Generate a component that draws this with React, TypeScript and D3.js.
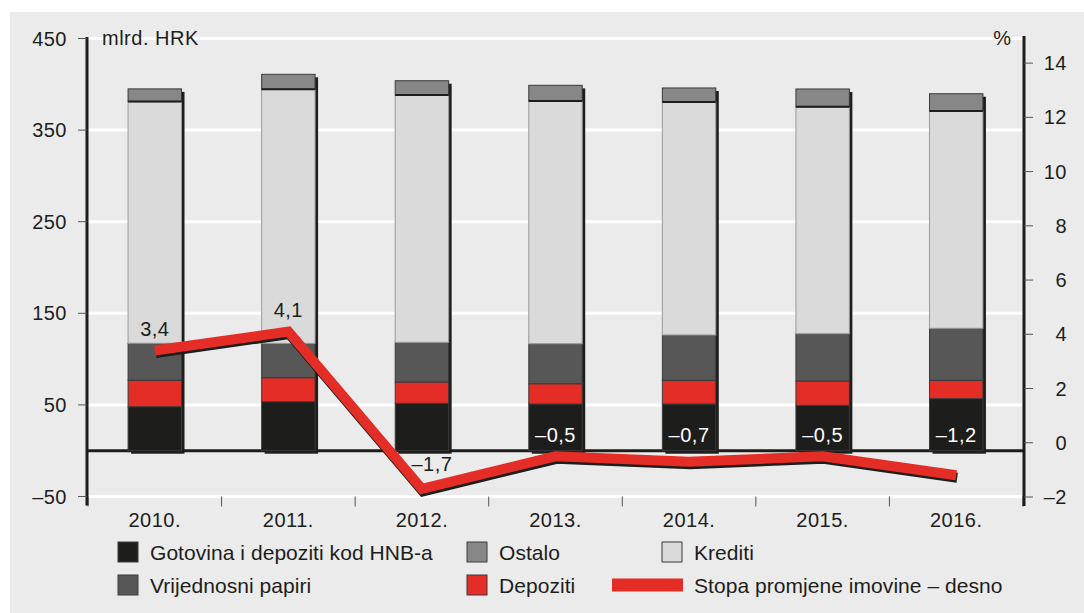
import React from "react";
import * as d3 from "d3";

const years = ["2010.", "2011.", "2012.", "2013.", "2014.", "2015.", "2016."];
const gotovina = [48, 53.5, 51.7, 51, 51, 49.6, 56.8];
const depoziti = [29, 26.2, 23.3, 22.1, 25.9, 26.5, 20.1];
const vrijednosni = [40.3, 37.5, 43.3, 43.7, 49.4, 51.6, 56.7];
const krediti = [263.8, 277.3, 270, 265, 254.4, 247.8, 237.3];
const ostalo = [13.9, 16.4, 15.6, 17.1, 15.3, 19.4, 18.8];
const stopa = [3.4, 4.1, -1.7, -0.5, -0.7, -0.5, -1.2];
const stopaLabels = ["3,4", "4,1", "–1,7", "–0,5", "–0,7", "–0,5", "–1,2"];
const leftTicks = [450, 350, 250, 150, 50, -50];
const rightTicks = [14, 12, 10, 8, 6, 4, 2, 0, -2];

const seriesKeys = ["gotovina", "depoziti", "vrijednosni", "krediti", "ostalo"];
const seriesColors: Record<string, string> = {
  gotovina: "#1d1d1b",
  depoziti: "#e52d27",
  vrijednosni: "#575757",
  krediti: "#dadada",
  ostalo: "#878787",
};

const legendItems = [
  { key: "gotovina", label: "Gotovina i depoziti kod HNB-a", col: 0, row: 0 },
  { key: "ostalo", label: "Ostalo", col: 1, row: 0 },
  { key: "krediti", label: "Krediti", col: 2, row: 0 },
  { key: "vrijednosni", label: "Vrijednosni papiri", col: 0, row: 1 },
  { key: "depoziti", label: "Depoziti", col: 1, row: 1 },
  { key: "line", label: "Stopa promjene imovine – desno", col: 2, row: 1 },
];

export default function App() {
  const W = 1084, H = 613;
  const left = 88, right = 1023;
  const yL = d3.scaleLinear().domain([-50, 450]).range([496.5, 38.5]);
  const yR = d3.scaleLinear().domain([-2, 15]).range([497, 36]);
  const x = d3.scaleBand<string>().domain(years).range([left, right]).padding(0);
  const bw = x.bandwidth() * 0.4;
  const cx = (y: string) => (x(y) as number) + x.bandwidth() / 2;

  const table = years.map((y, i) => ({
    year: y,
    gotovina: gotovina[i],
    depoziti: depoziti[i],
    vrijednosni: vrijednosni[i],
    krediti: krediti[i],
    ostalo: ostalo[i],
  }));
  const stacked = d3.stack<any>().keys(seriesKeys)(table);
  const totals = table.map((d) => seriesKeys.reduce((s, k) => s + (d as any)[k], 0));

  const line = d3
    .line<number>()
    .x((_, i) => cx(years[i]))
    .y((d) => yR(d));
  const linePath = line(stopa) || "";

  const font = "'Liberation Sans', Arial, Helvetica, sans-serif";
  const txt = "#1d1d1b";
  const fs = 20;
  const ls = 0.5;
  const legendX = [118, 467, 662];
  const legendY = [552, 585];

  return (
    <svg
      width={W}
      height={H}
      style={{ position: "absolute", left: 0, top: 0 }}
      fontFamily={font}
    >
      <rect x={0} y={0} width={W} height={H} fill="#ffffff" />
      <rect x={10} y={12} width={W - 10} height={H - 12} fill="#ebebeb" />

      {/* gridlines */}
      {leftTicks.map((t) => (
        <line key={"g" + t} x1={left} x2={right} y1={yL(t)} y2={yL(t)} stroke="#ffffff" strokeWidth={3} />
      ))}

      {/* category ticks on bottom */}
      {years.map((y, i) => (
        <line
          key={"ct" + i}
          x1={x(y) as number}
          x2={x(y) as number}
          y1={yL(-50)}
          y2={yL(-50) + 10}
          stroke="#555"
          strokeWidth={1}
        />
      ))}
      <line x1={right} x2={right} y1={yL(-50)} y2={yL(-50) + 10} stroke="#777" strokeWidth={1.5} />

      {/* zero line */}
      <line x1={left} x2={right} y1={yL(0)} y2={yL(0)} stroke="#1d1d1b" strokeWidth={3} />

      {/* bars */}
      {years.map((y, i) => {
        const bx = cx(y) - bw / 2;
        const top = yL(totals[i]);
        return (
          <g key={"bar" + i}>
            <rect x={bx + 3} y={top + 3} width={bw} height={yL(0) - top} fill="#1d1d1b" />
            {stacked.map((s) => {
              const d = s[i];
              const y0 = yL(d[0]);
              const y1 = yL(d[1]);
              return (
                <rect
                  key={s.key}
                  x={bx}
                  y={y1}
                  width={bw}
                  height={y0 - y1}
                  fill={seriesColors[s.key]}
                  stroke={s.key === "krediti" ? "#9a9a9a" : "#3a3a3a"}
                  strokeWidth={1}
                />
              );
            })}
            <line x1={bx} x2={bx + bw} y1={yL(stacked[3][i][1])} y2={yL(stacked[3][i][1])} stroke="#1d1d1b" strokeWidth={2} />
          </g>
        );
      })}

      {/* left axis */}
      <line x1={left - 1} x2={left - 1} y1={37} y2={yL(-50) + 9} stroke="#1d1d1b" strokeWidth={3} />
      {leftTicks.map((t) => (
        <g key={"lt" + t}>
          <line x1={left - 10} x2={left - 1} y1={yL(t)} y2={yL(t)} stroke="#555" strokeWidth={1} />
          <text x={67} y={yL(t) + 7} textAnchor="end" fontSize={fs} letterSpacing={ls} fill={txt}>
            {t < 0 ? "–" + Math.abs(t) : t}
          </text>
        </g>
      ))}

      {/* right axis */}
      <line x1={right + 1} x2={right + 1} y1={36} y2={yR(-2) + 9} stroke="#1d1d1b" strokeWidth={3} />
      {rightTicks.map((t) => (
        <g key={"rt" + t}>
          <line x1={right + 1} x2={right + 10} y1={yR(t)} y2={yR(t)} stroke="#555" strokeWidth={1} />
          <text x={1067} y={yR(t) + 7} textAnchor="end" fontSize={fs} letterSpacing={ls} fill={txt}>
            {t < 0 ? "–" + Math.abs(t) : t}
          </text>
        </g>
      ))}

      {/* axis titles */}
      <text x={102} y={45} fontSize={fs} letterSpacing={ls} fill={txt}>mlrd. HRK</text>
      <text x={1011} y={45} fontSize={fs} fill={txt} textAnchor="end">%</text>

      {/* x labels */}
      {years.map((y) => (
        <text key={"xl" + y} x={cx(y)} y={527} textAnchor="middle" fontSize={fs} letterSpacing={ls} fill={txt}>
          {y}
        </text>
      ))}

      {/* line */}
      <path d={linePath} transform="translate(1,2.5)" fill="none" stroke="#1d1d1b" strokeWidth={10} strokeLinejoin="miter" />
      <path d={linePath} fill="none" stroke="#e52d27" strokeWidth={10} strokeLinejoin="miter" />

      {/* value labels */}
      {stopa.map((v, i) => {
        const c = cx(years[i]);
        let lx = c, ly = yR(v) - 15, fill = txt;
        if (i === 2) {
          lx = c + 10;
          ly = yL(0) + 20;
        } else if (v < 0) {
          ly = yL(0) - 9;
          fill = "#ffffff";
        }
        return (
          <text key={"vl" + i} x={lx} y={ly} textAnchor="middle" fontSize={fs} letterSpacing={ls} fill={fill}>
            {stopaLabels[i]}
          </text>
        );
      })}

      {/* legend */}
      {legendItems.map((it) => {
        const lx = legendX[it.col];
        const ly = legendY[it.row];
        return (
          <g key={"lg" + it.key}>
            {it.key === "line" ? (
              <rect x={lx - 50} y={ly - 6.5} width={71} height={13} fill="#e52d27" />
            ) : (
              <rect x={lx} y={ly - 10} width={20} height={20} fill={seriesColors[it.key]} stroke="#3a3a3a" strokeWidth={1} />
            )}
            <text x={lx + 32} y={ly + 7.5} fontSize={21} letterSpacing={0.05} fill={txt}>
              {it.label}
            </text>
          </g>
        );
      })}
    </svg>
  );
}
